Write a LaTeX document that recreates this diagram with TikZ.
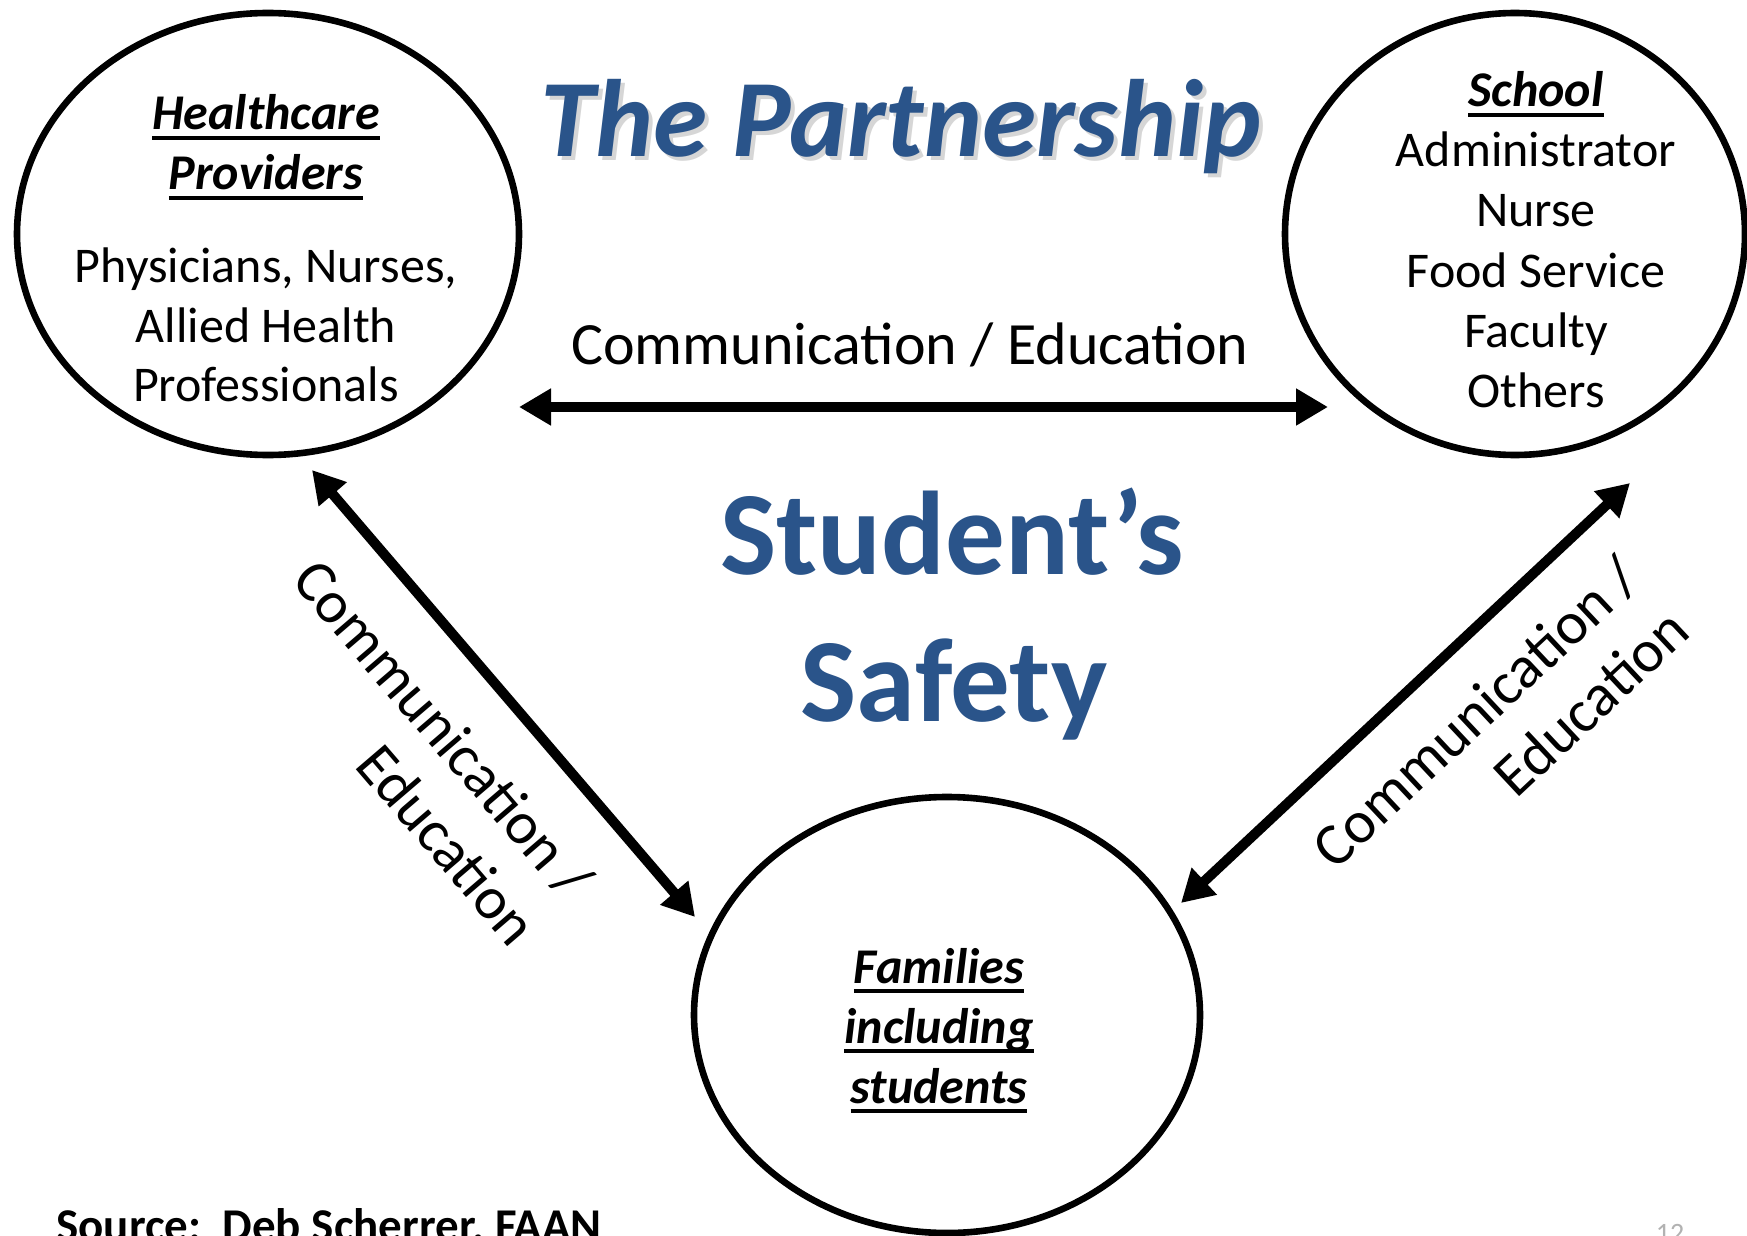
\documentclass[tikz,border=0pt]{standalone}
\usepackage{fontspec}
\setmainfont{Carlito}
\usetikzlibrary{shapes.geometric,arrows.meta,calc}
\definecolor{pblue}{RGB}{42,84,138}
\newcommand\myul[1]{\setbox0=\hbox{#1}\rlap{\rule[-4.8pt]{\wd0}{1.6pt}}\box0}
\begin{document}
\begin{tikzpicture}[x=0.5pt,y=-0.5pt,
  circ/.style={ellipse, draw=black, line width=3.3pt, inner sep=0pt, outer sep=0pt},
  link/.style={line width=5pt, {Triangle[length=16pt,width=17.5pt]}-{Triangle[length=16pt,width=17.5pt]}},
  body/.style={font=\fontsize{25}{30}\selectfont, anchor=base, inner sep=0pt},
  head/.style={font=\fontsize{25}{30}\selectfont\bfseries\itshape, anchor=base, inner sep=0pt},
  lab/.style={font=\fontsize{30}{36}\selectfont, inner sep=0pt},
  big/.style={font=\fontsize{59.5}{70}\selectfont\bfseries, text=pblue, anchor=base, inner sep=0pt},
  ttl/.style={font=\fontsize{55}{64}\selectfont\bfseries\itshape, anchor=base, inner sep=0pt},
]
\useasboundingbox (0,0) rectangle (1747,1236);
\clip (0,0) rectangle (1747,1236);
\fill[white] (0,0) rectangle (1747,1236);

% circles
\node[circ, minimum width=251pt, minimum height=221pt] (hc) at (268,234) {};
\node[circ, minimum width=230pt, minimum height=221pt] (sc) at (1515,234) {};
\node[circ, minimum width=253pt, minimum height=218pt] (fm) at (947,1015) {};

% arrow ends
\coordinate (h1) at ($(hc.east)+(0,173)$);
\coordinate (h2) at ($(sc.west)+(43,173)$);
\coordinate (l1) at ($(hc.south)+(44,15)$);
\coordinate (l2) at ($(fm.west)+(1,-98)$);
\coordinate (r1) at ($(sc.south)+(115,28)$);
\coordinate (r2) at ($(fm.east)+(-19,-112)$);

\draw[link] (h1) -- (h2);
\draw[link] (l1) -- (l2);
\draw[link] (r1) -- (r2);

% title with soft shadow
\node[ttl, text=black, opacity=0.16] (tsh) at (905,161) {The Partnership};
\node[ttl, text=pblue] (title) at (901,156) {The Partnership};

\node[big] (st1) at (952,574) {Student’s};
\node[big] (st2) at (954,721) {Safety};

% labels
\node[lab, anchor=base] (hlab) at (910,364) {Communication / Education};
\node[lab, align=right, rotate=-49.4] (llab) at (416,752) {Communication /\\Education};
\node[lab, align=right, rotate=43.1] (rlab) at (1500,738) {Communication /\\Education};

% healthcare providers
\node[head] (hc1) at (266,130) {\myul{Healthcare}};
\node[head] (hc2) at (266,190) {\myul{Providers}};
\node[body] (hc3) at (266,282) {Physicians, Nurses,};
\node[body] (hc4) at (266,342) {Allied Health};
\node[body] (hc5) at (266,401) {Professionals};

% school
\node[head] (sc1) at (1536,107) {\myul{School}};
\node[body] (sc2) at (1536,167) {Administrator};
\node[body] (sc3) at (1536,227) {Nurse};
\node[body] (sc4) at (1536,287) {Food Service};
\node[body] (sc5) at (1536,347) {Faculty};
\node[body] (sc6) at (1536,407) {Others};

% families
\node[head] (fm1) at (939,983) {\myul{Families}};
\node[head] (fm2) at (939,1043) {\myul{including}};
\node[head] (fm3) at (939,1103) {\myul{students}};

% footer
\node[anchor=base west, font=\fontsize{23.5}{28}\selectfont\bfseries, inner sep=0pt] (src) at (56,1241) {Source:~~Deb Scherrer, FAAN};
\node[anchor=base, font=\fontsize{14}{16}\selectfont, text=black!30, inner sep=0pt] (pg) at (1670,1242) {12};
\end{tikzpicture}
\end{document}
